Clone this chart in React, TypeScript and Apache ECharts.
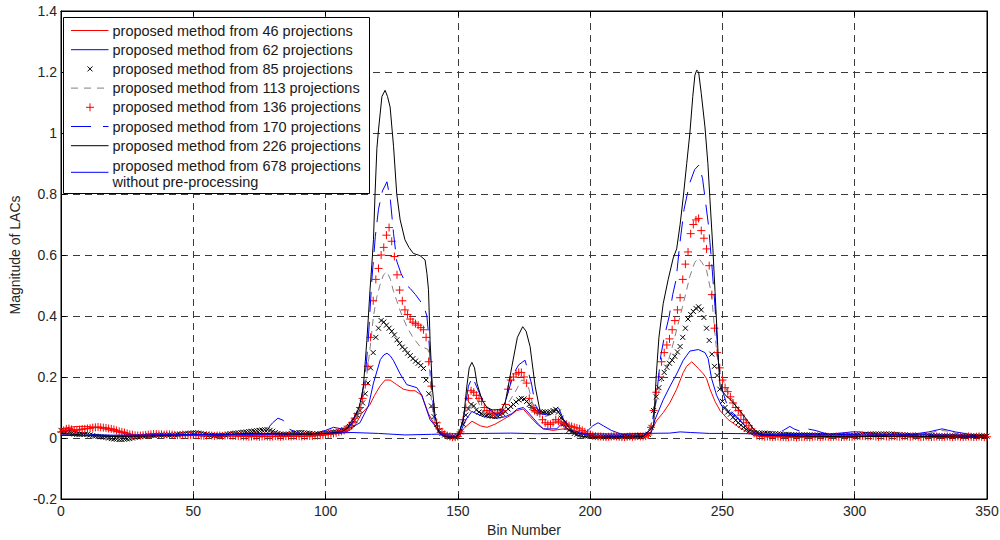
import React, { useEffect, useRef } from "react";
import * as echarts from "echarts";

// ---------- data ----------
const seriesNames = [
  "proposed method from 46 projections",
  "proposed method from 62 projections",
  "proposed method from 85 projections",
  "proposed method from 113 projections",
  "proposed method from 136 projections",
  "proposed method from 170 projections",
  "proposed method from 226 projections",
  "proposed method from 678 projections\nwithout pre-processing",
];

// [bin, value] key points
const red46: number[][] = [
  [0, 0.03], [3, 0.035], [6, 0.038], [10, 0.038], [13, 0.035], [16, 0.03], [20, 0.022], [25, 0.012], [30, 0.008],
  [40, 0.008], [50, 0.008], [60, 0.006], [70, 0.008], [80, 0.01], [90, 0.01], [100, 0.012], [105, 0.015],
  [108, 0.02], [110, 0.03], [111.7, 0.05], [113.6, 0.08], [116.8, 0.11], [118.5, 0.14], [120.6, 0.17],
  [122.5, 0.19], [124.4, 0.19], [126.9, 0.175], [129.4, 0.16], [131.9, 0.155], [133.8, 0.155], [136.3, 0.14],
  [138.9, 0.08], [141.4, 0.04], [143, 0.015], [146, 0.005], [150, 0.003], [152.1, 0.03], [155.3, 0.055],
  [158.5, 0.04], [161, 0.035], [164, 0.045], [167, 0.06], [170, 0.075], [172.2, 0.09], [174.7, 0.095],
  [177.3, 0.07], [180, 0.045], [182.3, 0.03], [186, 0.025], [190, 0.03], [194, 0.02], [198, 0.01], [205, 0.006],
  [215, 0.008], [220, 0.006], [223, 0.02], [225.1, 0.057], [227.6, 0.083], [230.1, 0.115], [232.7, 0.16],
  [235.2, 0.215], [236.5, 0.235], [238.4, 0.25], [240.9, 0.228], [242.8, 0.21], [244, 0.195], [245.3, 0.16],
  [247.2, 0.12], [249.1, 0.09], [252.2, 0.06], [256.6, 0.033], [261.6, 0.01], [270, 0.006], [280, 0.008],
  [300, 0.006], [320, 0.005], [340, 0.006], [350, 0.005],
];

const blue62: number[][] = [
  [0, 0.02], [3, 0.025], [6, 0.02], [10, 0.012], [20, 0.008], [30, 0.005], [40, 0.008], [50, 0.008], [60, 0.006],
  [70, 0.01], [80, 0.012], [90, 0.012], [96, 0.015], [100, 0.025], [103, 0.035], [106, 0.03], [110, 0.035],
  [113, 0.05], [116.2, 0.105], [118.1, 0.18], [120.7, 0.257], [122, 0.272], [123.2, 0.278], [124.4, 0.27],
  [125.6, 0.255], [128.2, 0.21], [130.7, 0.175], [132.6, 0.17], [134.5, 0.165], [136.4, 0.14], [138, 0.098],
  [139.5, 0.06], [141.4, 0.04], [143, 0.02], [146, 0.008], [149, 0.003], [151, 0.02], [153, 0.06], [155.3, 0.087],
  [157.5, 0.078], [159.7, 0.07], [164.8, 0.065], [168, 0.07], [170.4, 0.08], [172.5, 0.095], [174.7, 0.1],
  [176.5, 0.085], [178.5, 0.065], [180.5, 0.045], [182.3, 0.03], [187.4, 0.03], [189, 0.045], [190.5, 0.035],
  [192.4, 0.025], [196, 0.02], [198, 0.015], [201, 0.04], [203, 0.05], [205, 0.04], [208, 0.025], [212, 0.012],
  [220, 0.008], [223, 0.015], [224.5, 0.06], [225.7, 0.085], [227.6, 0.125], [230.2, 0.17], [232.7, 0.21],
  [235.2, 0.255], [237.7, 0.285], [240.9, 0.29], [243.4, 0.28], [244.6, 0.26], [245.9, 0.195], [247.8, 0.14],
  [249.8, 0.104], [252.4, 0.087], [256.2, 0.06], [260, 0.027], [264, 0.015], [270, 0.012], [280, 0.015],
  [290, 0.012], [299, 0.02], [302, 0.02], [310, 0.012], [320, 0.01], [328, 0.02], [333, 0.03], [338, 0.02],
  [345, 0.01], [350, 0.008],
];

// one value per bin (0..350)
const x85: number[] = [
  0.025, 0.022, 0.02, 0.018, 0.015, 0.013, 0.012, 0.012, 0.012, 0.012,
  0.012, 0.01, 0.008, 0.006, 0.005, 0.004, 0.003, 0.002, 0.0, -0.002,
  -0.003, -0.004, -0.005, -0.005, -0.004, -0.003, -0.002, 0.0, 0.002, 0.004,
  0.005, 0.006, 0.007, 0.008, 0.008, 0.009, 0.009, 0.01, 0.01, 0.01,
  0.01, 0.01, 0.01, 0.01, 0.011, 0.012, 0.013, 0.014, 0.015, 0.016,
  0.017, 0.017, 0.016, 0.015, 0.013, 0.011, 0.01, 0.009, 0.008, 0.008,
  0.008, 0.009, 0.01, 0.012, 0.014, 0.015, 0.016, 0.017, 0.018, 0.019,
  0.02, 0.021, 0.022, 0.023, 0.024, 0.025, 0.026, 0.027, 0.027, 0.025,
  0.022, 0.018, 0.015, 0.013, 0.012, 0.012, 0.013, 0.015, 0.016, 0.017,
  0.018, 0.018, 0.017, 0.016, 0.015, 0.014, 0.013, 0.013, 0.014, 0.015,
  0.016, 0.017, 0.018, 0.019, 0.02, 0.022, 0.024, 0.027, 0.032, 0.038,
  0.045, 0.058, 0.075, 0.09, 0.115, 0.145, 0.18, 0.23, 0.28, 0.33,
  0.36, 0.385, 0.38, 0.37, 0.36, 0.35, 0.338, 0.322, 0.31, 0.298,
  0.29, 0.278, 0.27, 0.26, 0.252, 0.245, 0.238, 0.228, 0.19, 0.145,
  0.105, 0.07, 0.045, 0.025, 0.015, 0.01, 0.006, 0.004, 0.003, 0.003,
  0.005, 0.02, 0.045, 0.075, 0.095, 0.11, 0.105, 0.092, 0.085, 0.08,
  0.077, 0.075, 0.073, 0.071, 0.07, 0.072, 0.076, 0.08, 0.086, 0.095,
  0.103, 0.11, 0.118, 0.125, 0.13, 0.128, 0.12, 0.11, 0.1, 0.092,
  0.088, 0.086, 0.085, 0.085, 0.085, 0.086, 0.09, 0.094, 0.085, 0.065,
  0.048, 0.035, 0.025, 0.02, 0.015, 0.012, 0.01, 0.008, 0.007, 0.006,
  0.005, 0.005, 0.004, 0.004, 0.004, 0.004, 0.004, 0.004, 0.004, 0.004,
  0.004, 0.004, 0.004, 0.004, 0.004, 0.004, 0.004, 0.004, 0.005, 0.005,
  0.005, 0.006, 0.012, 0.035, 0.09, 0.135, 0.165, 0.195, 0.215, 0.232,
  0.245, 0.255, 0.268, 0.282, 0.3, 0.33, 0.36, 0.39, 0.405, 0.415,
  0.425, 0.43, 0.42, 0.395, 0.36, 0.32, 0.275, 0.235, 0.205, 0.16,
  0.12, 0.1, 0.085, 0.078, 0.068, 0.058, 0.05, 0.042, 0.035, 0.028,
  0.022, 0.02, 0.018, 0.017, 0.016, 0.016, 0.016, 0.015, 0.015, 0.014,
  0.014, 0.013, 0.013, 0.012, 0.012, 0.011, 0.011, 0.01, 0.01, 0.01,
  0.01, 0.01, 0.01, 0.01, 0.009, 0.009, 0.009, 0.009, 0.009, 0.008,
  0.008, 0.008, 0.008, 0.008, 0.008, 0.008, 0.008, 0.008, 0.008, 0.008,
  0.008, 0.009, 0.01, 0.011, 0.012, 0.012, 0.013, 0.013, 0.013, 0.013,
  0.013, 0.013, 0.013, 0.013, 0.013, 0.012, 0.012, 0.011, 0.01, 0.01,
  0.009, 0.009, 0.008, 0.008, 0.008, 0.008, 0.008, 0.008, 0.008, 0.008,
  0.007, 0.007, 0.007, 0.006, 0.006, 0.006, 0.006, 0.006, 0.006, 0.006,
  0.006, 0.006, 0.006, 0.006, 0.006, 0.006, 0.006, 0.006, 0.006, 0.006, 0.006,
];

const gray113: number[][] = [
  [0, 0.012], [10, 0.01], [20, 0.006], [30, 0.006], [40, 0.008], [50, 0.01], [60, 0.008], [70, 0.012], [80, 0.015],
  [90, 0.012], [100, 0.015], [105, 0.018], [108, 0.025], [110, 0.04], [112, 0.07], [114, 0.12], [115.5, 0.2],
  [116.9, 0.3], [118.1, 0.4], [119.3, 0.46], [120.5, 0.5], [121.9, 0.535], [123.2, 0.545], [124.5, 0.52],
  [125.7, 0.48], [126.9, 0.45], [128.5, 0.41], [130.7, 0.365], [133, 0.33], [135.7, 0.3], [137.5, 0.295],
  [138.8, 0.29], [139.5, 0.2], [140, 0.12], [141, 0.06], [142.5, 0.02], [145, 0.008], [149, 0.003], [151, 0.03],
  [152.5, 0.09], [154.7, 0.16], [156.5, 0.14], [159.7, 0.08], [163, 0.075], [166, 0.078], [168, 0.1],
  [171.6, 0.15], [174.1, 0.19], [175.5, 0.185], [176.6, 0.17], [178, 0.12], [180, 0.08], [183, 0.07], [186, 0.08],
  [188, 0.085], [190, 0.06], [193, 0.03], [196, 0.015], [200, 0.006], [210, 0.004], [220, 0.005], [222.5, 0.02],
  [224.5, 0.1], [226.4, 0.17], [228.9, 0.235], [230.8, 0.29], [232.7, 0.355], [235.2, 0.44], [237.7, 0.53],
  [239.5, 0.575], [240.9, 0.59], [242.3, 0.575], [244, 0.55], [245.9, 0.47], [247.2, 0.34], [248, 0.27],
  [249.1, 0.22], [251.7, 0.155], [255.5, 0.1], [259.3, 0.05], [263, 0.02], [268, 0.012], [280, 0.01], [300, 0.008],
  [320, 0.008], [328, 0.015], [332, 0.025], [336, 0.022], [340, 0.01], [350, 0.006],
];

// one value per bin (0..350)
const plus136: number[] = [
  0.02, 0.025, 0.03, 0.031, 0.028, 0.025, 0.026, 0.027, 0.029, 0.03,
  0.031, 0.032, 0.034, 0.035, 0.036, 0.035, 0.034, 0.033, 0.031, 0.03,
  0.028, 0.025, 0.022, 0.02, 0.018, 0.015, 0.012, 0.011, 0.009, 0.008,
  0.008, 0.009, 0.01, 0.011, 0.012, 0.013, 0.013, 0.012, 0.012, 0.011,
  0.012, 0.012, 0.011, 0.01, 0.009, 0.01, 0.011, 0.01, 0.009, 0.01,
  0.01, 0.009, 0.009, 0.008, 0.007, 0.008, 0.009, 0.008, 0.007, 0.008,
  0.008, 0.007, 0.008, 0.009, 0.008, 0.007, 0.007, 0.006, 0.006, 0.005,
  0.005, 0.004, 0.005, 0.006, 0.005, 0.004, 0.005, 0.006, 0.005, 0.004,
  0.005, 0.006, 0.005, 0.004, 0.005, 0.006, 0.006, 0.005, 0.006, 0.007,
  0.006, 0.005, 0.006, 0.007, 0.007, 0.006, 0.008, 0.008, 0.009, 0.01,
  0.012, 0.013, 0.014, 0.015, 0.017, 0.02, 0.022, 0.025, 0.03, 0.04,
  0.05, 0.065, 0.08, 0.1, 0.13, 0.175, 0.235, 0.33, 0.45, 0.52,
  0.556, 0.6, 0.625, 0.665, 0.69, 0.645, 0.595, 0.535, 0.485, 0.45,
  0.42, 0.405, 0.39, 0.38, 0.375, 0.37, 0.362, 0.355, 0.33, 0.25,
  0.17, 0.1, 0.05, 0.03, 0.02, 0.012, 0.008, 0.005, 0.003, 0.003,
  0.005, 0.02, 0.06, 0.1, 0.13, 0.155, 0.15, 0.14, 0.13, 0.12,
  0.1, 0.09, 0.085, 0.08, 0.08, 0.082, 0.085, 0.09, 0.11, 0.16,
  0.19, 0.2, 0.21, 0.215, 0.215, 0.2, 0.18, 0.13, 0.1, 0.09,
  0.085, 0.08, 0.06, 0.05, 0.045, 0.045, 0.05, 0.06, 0.055, 0.05,
  0.048, 0.045, 0.04, 0.038, 0.035, 0.033, 0.03, 0.025, 0.02, 0.015,
  0.012, 0.008, 0.006, 0.005, 0.005, 0.004, 0.003, 0.004, 0.005, 0.006,
  0.005, 0.004, 0.003, 0.003, 0.004, 0.005, 0.004, 0.005, 0.006, 0.005,
  0.005, 0.006, 0.01, 0.035, 0.09, 0.15, 0.2, 0.25, 0.28, 0.305,
  0.325, 0.355, 0.385, 0.42, 0.46, 0.52, 0.57, 0.61, 0.67, 0.7,
  0.715, 0.72, 0.68, 0.655, 0.62, 0.565, 0.47, 0.36, 0.28, 0.23,
  0.19, 0.165, 0.152, 0.135, 0.115, 0.1, 0.09, 0.075, 0.06, 0.05,
  0.04, 0.03, 0.015, 0.008, 0.006, 0.005, 0.004, 0.005, 0.004, 0.003,
  0.004, 0.005, 0.004, 0.003, 0.002, 0.003, 0.004, 0.003, 0.002, 0.003,
  0.003, 0.004, 0.003, 0.002, 0.004, 0.005, 0.004, 0.003, 0.004, 0.005,
  0.004, 0.003, 0.004, 0.005, 0.004, 0.003, 0.004, 0.005, 0.004, 0.004,
  0.005, 0.006, 0.006, 0.007, 0.006, 0.005, 0.006, 0.007, 0.005, 0.004,
  0.005, 0.006, 0.005, 0.004, 0.005, 0.006, 0.005, 0.004, 0.005, 0.006,
  0.005, 0.004, 0.005, 0.006, 0.004, 0.003, 0.004, 0.005, 0.004, 0.003,
  0.004, 0.005, 0.004, 0.003, 0.004, 0.005, 0.004, 0.003, 0.004, 0.005,
  0.004, 0.003, 0.004, 0.005, 0.004, 0.003, 0.004, 0.005, 0.004, 0.003, 0.004,
];

const blue170: number[][] = [
  [0, 0.01], [10, 0.008], [20, 0.006], [30, 0.008], [40, 0.01], [50, 0.01], [60, 0.01], [70, 0.012], [76, 0.015],
  [78, 0.03], [80, 0.05], [82, 0.065], [84, 0.058], [86, 0.03], [90, 0.015], [100, 0.015], [105, 0.02], [108, 0.03],
  [110, 0.05], [112, 0.09], [113.5, 0.13], [115, 0.2], [116.2, 0.33], [117.5, 0.52], [118.8, 0.66], [120, 0.75],
  [121.5, 0.81], [123.2, 0.84], [124.5, 0.78], [125.7, 0.67], [126.9, 0.58], [128.5, 0.54], [130.7, 0.5],
  [132, 0.49], [134, 0.47], [135.7, 0.45], [137.2, 0.43], [138.3, 0.4], [139, 0.33], [139.5, 0.26], [140.8, 0.09],
  [142, 0.03], [144, 0.01], [148, 0.003], [150, 0.005], [152, 0.06], [154, 0.17], [155.5, 0.2], [157, 0.17],
  [158.5, 0.14], [161, 0.1], [164.8, 0.075], [167, 0.09], [169, 0.15], [171, 0.21], [173, 0.24], [175.4, 0.255],
  [176.5, 0.22], [177.8, 0.18], [179.2, 0.11], [181, 0.08], [184, 0.075], [186, 0.085], [188.1, 0.098], [190, 0.06],
  [193, 0.03], [196, 0.015], [200, 0.008], [210, 0.005], [220, 0.006], [223, 0.03], [224.5, 0.1], [225.5, 0.17],
  [226.7, 0.27], [228, 0.33], [229.9, 0.4], [231.2, 0.47], [232.5, 0.52], [233.8, 0.63], [235.5, 0.75],
  [237.6, 0.835], [239.5, 0.88], [241.1, 0.895], [242.5, 0.85], [244.7, 0.7], [245.9, 0.58], [247.2, 0.43],
  [248.5, 0.25], [249.8, 0.16], [251.7, 0.11], [253.5, 0.085], [255.5, 0.07], [258, 0.045], [261, 0.02],
  [265, 0.01], [270, 0.012], [273, 0.025], [275.5, 0.038], [277, 0.03], [280, 0.02], [282, 0.03], [285, 0.025],
  [290, 0.012], [300, 0.01], [310, 0.008], [320, 0.01], [330, 0.008], [340, 0.006], [350, 0.005],
];

const black226: number[][] = [
  [0, 0.015], [5, 0.012], [10, 0.008], [20, 0.005], [30, 0.006], [40, 0.008], [50, 0.012], [60, 0.01], [70, 0.015],
  [80, 0.015], [90, 0.012], [100, 0.015], [104, 0.018], [106, 0.02], [108, 0.03], [109.3, 0.05], [111, 0.07],
  [112.4, 0.093], [113.5, 0.13], [114.3, 0.17], [115, 0.25], [115.6, 0.32], [116.2, 0.4], [116.8, 0.486],
  [117.5, 0.57], [118.1, 0.65], [118.7, 0.8], [119.4, 0.95], [120, 1.01], [121.3, 1.12], [122.5, 1.14],
  [123.4, 1.12], [124.4, 1.085], [125.7, 0.955], [126.9, 0.8], [128.2, 0.715], [130, 0.65], [131.5, 0.625],
  [133.2, 0.605], [135.7, 0.598], [137.6, 0.584], [138.3, 0.54], [138.9, 0.486], [139.5, 0.32], [140.4, 0.16],
  [141.4, 0.07], [142.7, 0.02], [144, 0.008], [146, 0.003], [149.6, 0.003], [151, 0.03], [152.1, 0.06],
  [153.4, 0.17], [154.3, 0.23], [155.3, 0.248], [156.3, 0.23], [157.2, 0.18], [159.1, 0.125], [161, 0.1],
  [163, 0.092], [166.5, 0.093], [168, 0.12], [170.4, 0.234], [172.5, 0.33], [174.5, 0.365], [175.8, 0.35],
  [177.3, 0.3], [179.2, 0.17], [181.1, 0.087], [184.9, 0.076], [187.4, 0.093], [189.9, 0.06], [192.4, 0.03],
  [194.9, 0.01], [197, 0.005], [200, 0.003], [210, 0.003], [220, 0.004], [222.6, 0.027], [224, 0.04],
  [224.5, 0.13], [225.1, 0.22], [226, 0.33], [227.6, 0.44], [229.5, 0.52], [231.4, 0.59], [232.7, 0.62],
  [234, 0.7], [235.2, 0.79], [236.5, 0.9], [237.7, 1.0], [238.8, 1.12], [239.6, 1.19], [240.3, 1.206],
  [241, 1.2], [242, 1.13], [243.4, 1.02], [244.5, 0.9], [245.3, 0.78], [246.4, 0.62], [247.2, 0.48],
  [247.9, 0.36], [248.5, 0.25], [249.1, 0.17], [250.3, 0.15], [251.6, 0.136], [252.8, 0.128], [254.1, 0.115],
  [256.6, 0.09], [259.2, 0.06], [261.7, 0.03], [264.2, 0.01], [270, 0.008], [280, 0.006], [300, 0.004],
  [320, 0.006], [340, 0.003], [350, 0.003],
];

const blue678: number[][] = [
  [0, 0.008], [30, 0.01], [60, 0.012], [90, 0.014], [100, 0.015], [110, 0.018], [120, 0.015], [130, 0.01],
  [140, 0.012], [150, 0.014], [160, 0.015], [170, 0.016], [180, 0.014], [190, 0.015], [200, 0.014], [210, 0.013],
  [220, 0.015], [230, 0.016], [234, 0.02], [238, 0.018], [245, 0.015], [250, 0.015], [260, 0.014], [270, 0.012],
  [290, 0.01], [310, 0.01], [330, 0.01], [350, 0.008],
];

const xTickLabels = ["0", "50", "100", "150", "200", "250", "300", "350"];
const yTickLabels = ["-0.2", "0", "0.2", "0.4", "0.6", "0.8", "1", "1.2", "1.4"];

// ---------- styles ----------
const FONT = '"Liberation Sans", Arial, Helvetica, sans-serif';
const PLUS = "path://M4,0L4,8M0,4L8,4";
const CROSS = "path://M0,0L8,8M0,8L8,0";

export default function App() {
  const ref = useRef<HTMLDivElement>(null);

  useEffect(() => {
    if (!ref.current) return;
    const chart = echarts.init(ref.current, null, { renderer: "svg" });

    const lineSeries = (name: string, data: number[][], color: string, type: any, z: number) => ({
      name,
      type: "line",
      data,
      symbol: "none",
      showSymbol: false,
      silent: true,
      z,
      lineStyle: { color, width: 1, type },
      itemStyle: { color },
    });
    const markerSeries = (name: string, vals: number[], color: string, symbol: string, size: number, z: number) => ({
      name,
      type: "line",
      data: vals.map((v, i) => [i, v]),
      symbol,
      symbolSize: size,
      showSymbol: true,
      showAllSymbol: true,
      silent: true,
      z,
      lineStyle: { opacity: 0, width: 0 },
      itemStyle: { color: "rgba(0,0,0,0)", borderColor: color, borderWidth: 1 },
    });

    const axisText = { color: "#262626", fontSize: 14, fontFamily: FONT };
    const splitLine = { show: true, lineStyle: { color: "#3a3a3a", width: 1, type: [7, 5] } };

    // legend drawn as graphic
    const lx = 63.5, ly = 17.5, lw = 306, lh = 176;
    const rowY = [30.5, 49.7, 68.9, 88.1, 107.3, 126.5, 145.7, 174];
    const iconX1 = 71, iconX2 = 108.5, mx = 90;
    const els: any[] = [
      { type: "rect", z: 100, shape: { x: lx, y: ly, width: lw, height: lh }, style: { fill: "#fff", stroke: "#000", lineWidth: 1 } },
    ];
    const lineIcon = (y: number, stroke: string, dash?: number[]) =>
      els.push({ type: "line", z: 101, shape: { x1: iconX1, y1: y, x2: iconX2, y2: y }, style: { stroke, lineWidth: 1, lineDash: dash } });
    lineIcon(rowY[0], "#ff0000");
    lineIcon(rowY[1], "#0000ff");
    els.push({ type: "line", z: 101, shape: { x1: mx - 2.5, y1: rowY[2] - 2.5, x2: mx + 2.5, y2: rowY[2] + 2.5 }, style: { stroke: "#000", lineWidth: 1 } });
    els.push({ type: "line", z: 101, shape: { x1: mx - 2.5, y1: rowY[2] + 2.5, x2: mx + 2.5, y2: rowY[2] - 2.5 }, style: { stroke: "#000", lineWidth: 1 } });
    lineIcon(rowY[3], "#808080", [7, 6]);
    els.push({ type: "line", z: 101, shape: { x1: mx - 4, y1: rowY[4], x2: mx + 4, y2: rowY[4] }, style: { stroke: "#ff0000", lineWidth: 1 } });
    els.push({ type: "line", z: 101, shape: { x1: mx, y1: rowY[4] - 4, x2: mx, y2: rowY[4] + 4 }, style: { stroke: "#ff0000", lineWidth: 1 } });
    lineIcon(rowY[5], "#0000ff", [20, 12]);
    lineIcon(rowY[6], "#000000");
    lineIcon(172.3, "#0000ff");
    seriesNames.forEach((n, i) => {
      els.push({
        type: "text",
        z: 102,
        x: 112.5,
        y: rowY[i],
        style: { text: n, fill: "#1a1a1a", font: `14.5px ${FONT}`, align: "left", verticalAlign: "middle", lineHeight: 16.6 },
      });
    });

    const option: any = {
      animation: false,
      textStyle: { fontFamily: FONT },
      grid: {
        left: 61, right: 13, top: 11, bottom: 41,
        show: true, borderColor: "#000", borderWidth: 1, backgroundColor: "#fff",
        containLabel: false, outerBoundsMode: "none",
      },
      xAxis: [
        {
          type: "value", min: 0, max: 350, interval: 50,
          name: "Bin Number", nameLocation: "middle", nameGap: 23,
          nameTextStyle: { ...axisText },
          axisLine: { show: true, onZero: false, lineStyle: { color: "#000", width: 1 } },
          axisTick: { show: true, inside: true, length: 5, lineStyle: { color: "#000" } },
          axisLabel: { ...axisText, margin: 5, formatter: (v: number) => xTickLabels[Math.round(v / 50)] ?? String(v) },
          splitLine,
        },
        {
          type: "value", position: "top", min: 0, max: 350, interval: 50,
          axisLine: { show: true, onZero: false, lineStyle: { color: "#000", width: 1 } },
          axisTick: { show: true, inside: true, length: 5, lineStyle: { color: "#000" } },
          axisLabel: { show: false }, splitLine: { show: false },
        },
      ],
      yAxis: [
        {
          type: "value", min: -0.2, max: 1.4, interval: 0.2,
          name: "Magnitude of LACs", nameLocation: "middle", nameGap: 36,
          nameTextStyle: { ...axisText },
          axisLine: { show: true, onZero: false, lineStyle: { color: "#000", width: 1 } },
          axisTick: { show: true, inside: true, length: 5, lineStyle: { color: "#000" } },
          axisLabel: { ...axisText, margin: 4, formatter: (v: number) => yTickLabels[Math.round((v + 0.2) / 0.2)] ?? String(v) },
          splitLine,
        },
        {
          type: "value", position: "right", min: -0.2, max: 1.4, interval: 0.2,
          axisLine: { show: true, onZero: false, lineStyle: { color: "#000", width: 1 } },
          axisTick: { show: true, inside: true, length: 5, lineStyle: { color: "#000" } },
          axisLabel: { show: false }, splitLine: { show: false },
        },
      ],
      series: [
        lineSeries(seriesNames[0], red46, "#ff0000", "solid", 2),
        lineSeries(seriesNames[1], blue62, "#0000ff", "solid", 3),
        markerSeries(seriesNames[2], x85, "#000000", CROSS, 5, 4),
        lineSeries(seriesNames[3], gray113, "#808080", [7, 5], 5),
        markerSeries(seriesNames[4], plus136, "#ff0000", PLUS, 8, 6),
        lineSeries(seriesNames[5], blue170, "#0000ff", [20, 10], 7),
        lineSeries(seriesNames[6], black226, "#000000", "solid", 8),
        lineSeries(seriesNames[7], blue678, "#0000ff", "solid", 9),
      ],
      graphic: { elements: els },
    };
    chart.setOption(option);
    return () => chart.dispose();
  }, []);

  return <div ref={ref} style={{ position: "fixed", left: 0, top: 0, width: 1000, height: 540, background: "#fff" }} />;
}
